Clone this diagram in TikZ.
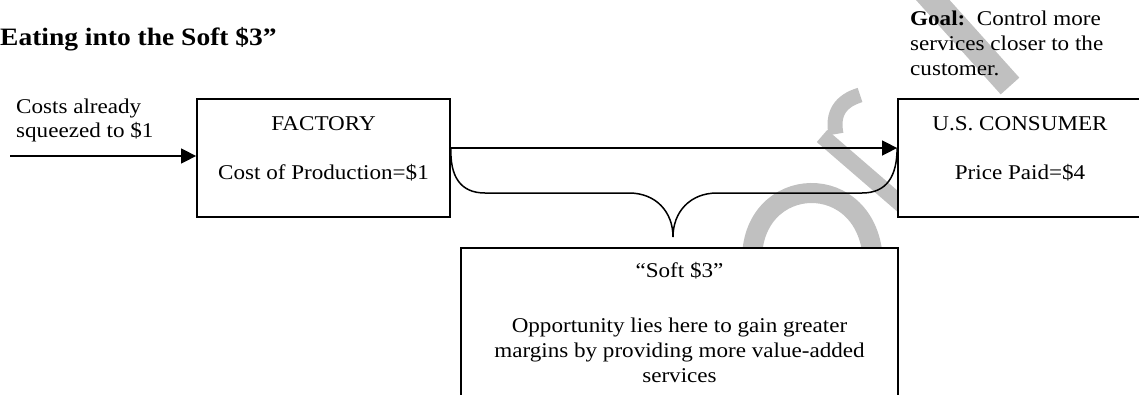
\documentclass[tikz,border=0pt]{standalone}
\usepackage{fontspec}
\setmainfont{Liberation Serif}[FakeStretch=1.1]
\usetikzlibrary{arrows.meta}
\definecolor{wmgray}{RGB}{192,192,192}
\begin{document}
\begin{tikzpicture}[x=1pt,y=-1pt,
  box/.style={draw, line width=1.8pt, fill=white, inner sep=0pt},
  conn/.style={line width=1.5pt},
  tipped/.style={conn, -{Triangle[length=15pt,width=15pt]}},
  txt/.style={anchor=base, inner sep=0pt, font=\fontsize{21}{25}\selectfont},
  ltxt/.style={txt, anchor=base west},
  wm/.style={draw=wmgray, line cap=butt}]
\useasboundingbox (0,0) rectangle (1139,394);
\clip (0,0) rectangle (1139,394);
% watermark (partly hidden behind boxes)
\draw[wm, line width=20pt] (752,262) .. controls (750,172) and (870,168) .. (873,262);
\draw[wm, line width=16pt] (822,136) -- (910,212);
\draw[wm, line width=15pt] (836,134) .. controls (832,114) and (840,101) .. (860,95);
\draw[wm, line width=25pt] (922,-12) -- (1010,86);
% boxes
\node[box, minimum width=253pt, minimum height=118pt] (factory) at (323.5,158) {};
\node[box, minimum width=244pt, minimum height=118pt] (consumer) at (1020,158) {};
\node[box, minimum width=437pt, minimum height=172pt] (soft) at (679.5,334) {};
% connectors
\coordinate (start) at (10,156);
\coordinate (m) at (450,148);
\coordinate (tip) at (673,237);
\draw[tipped] (start) -- (start -| factory.west);
\draw[tipped] (factory.east |- m) -- (consumer.west |- m);
\draw[conn] (factory.east |- m) .. controls (450,176) and (460,193) .. (485,193)
  -- (629,193) .. controls (656,193) and (673,212) .. (tip)
  .. controls (673,212) and (690,193) .. (717,193)
  -- (862,193) .. controls (887,193) and (897,176) .. (consumer.west |- m);
% texts
\node[ltxt, font=\bfseries\fontsize{25}{29}\selectfont] (title) at (0,45) {Eating into the Soft \$3”};
\node[ltxt] (in1) at (16,113) {Costs already};
\node[ltxt] (in2) at (16,137) {squeezed to \$1};
\node[txt] (f1) at (323.5,130) {FACTORY};
\node[txt] (f2) at (323.5,179) {Cost of Production=\$1};
\node[txt] (c1) at (1020,130) {U.S. CONSUMER};
\node[txt] (c2) at (1020,179) {Price Paid=\$4};
\node[ltxt] (g1) at (910,25) {\textbf{Goal:}\ \ Control more};
\node[ltxt] (g2) at (910,50) {services closer to the};
\node[ltxt] (g3) at (910,75) {customer.};
\node[txt] (s1) at (679.5,277) {“Soft \$3”};
\node[txt] (s2) at (679.5,332) {Opportunity lies here to gain greater};
\node[txt] (s3) at (679.5,357) {margins by providing more value-added};
\node[txt] (s4) at (679.5,382) {services};
\end{tikzpicture}
\end{document}
